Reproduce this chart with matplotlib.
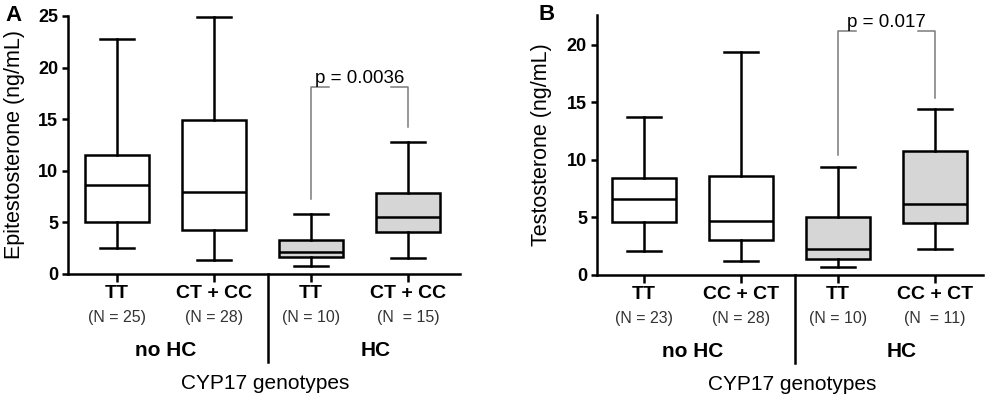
import matplotlib
matplotlib.use('Agg')
import matplotlib.pyplot as plt
from matplotlib.transforms import blended_transform_factory

plt.rcParams['font.family'] = ['Liberation Sans', 'DejaVu Sans']

# panel A: epitestosterone
epi_groups = ['TT', 'CT + CC', 'TT', 'CT + CC']
epi_n = ['(N = 25)', '(N = 28)', '(N = 10)', '(N  = 15)']
epi_whislo = [2.5, 1.4, 0.8, 1.55]
epi_q1 = [5.0, 4.3, 1.6, 4.1]
epi_med = [8.6, 7.9, 2.1, 5.5]
epi_q3 = [11.5, 14.9, 3.3, 7.8]
epi_whishi = [22.8, 24.9, 5.85, 12.8]
epi_p = 'p = 0.0036'
epi_bracket = [18.1, 7.3, 14.2]  # top, left leg end, right leg end

# panel B: testosterone
tes_groups = ['TT', 'CC + CT', 'TT', 'CC + CT']
tes_n = ['(N = 23)', '(N = 28)', '(N = 10)', '(N  = 11)']
tes_whislo = [2.1, 1.2, 0.7, 2.3]
tes_q1 = [4.6, 3.0, 1.4, 4.5]
tes_med = [6.6, 4.7, 2.3, 6.2]
tes_q3 = [8.4, 8.6, 5.0, 10.8]
tes_whishi = [13.7, 19.4, 9.4, 14.4]
tes_p = 'p = 0.017'
tes_bracket = [21.2, 10.4, 15.4]

fills = ['white', 'white', '#d6d6d6', '#d6d6d6']
positions = [1, 2, 3, 4]
LW = 1.8


def draw_panel(ax, groups, nlab, lo, q1, med, q3, hi, ylim, yticks, ylabel,
               ptext, bracket, xlim, letter, sep_depth, label_x):
    stats = []
    for i in range(len(groups)):
        stats.append({'whislo': lo[i], 'q1': q1[i], 'med': med[i],
                      'q3': q3[i], 'whishi': hi[i], 'fliers': []})
    bp = ax.bxp(stats, positions=positions, widths=0.66, patch_artist=True,
                showfliers=False,
                boxprops=dict(linewidth=LW, edgecolor='black'),
                medianprops=dict(linewidth=LW, color='black'),
                whiskerprops=dict(linewidth=LW, color='black'),
                capprops=dict(linewidth=LW, color='black'),
                capwidths=0.35)
    for patch, col in zip(bp['boxes'], fills):
        patch.set_facecolor(col)

    ax.set_ylim(*ylim)
    ax.set_xlim(*xlim)
    ax.set_yticks(yticks)
    ax.set_xticks(positions)
    ax.set_xticklabels([''] * 4)
    for s in ['top', 'right']:
        ax.spines[s].set_visible(False)
    for s in ['left', 'bottom']:
        ax.spines[s].set_linewidth(LW)
    ax.tick_params(axis='y', length=4.5, width=LW, pad=2.5, labelsize=13)
    ax.tick_params(axis='x', length=5.5, width=LW)
    for lab in ax.get_yticklabels():
        lab.set_fontweight('bold')
    ax.set_ylabel(ylabel, fontsize=15.5)
    ax.yaxis.set_label_coords(label_x, 0.5)

    tr = blended_transform_factory(ax.transData, ax.transAxes)
    for pos, g, n in zip(positions, groups, nlab):
        ax.annotate(g, xy=(pos, 0), xycoords=tr, xytext=(0, -14),
                    textcoords='offset points', ha='center', va='center',
                    fontsize=14, fontweight='bold')
        ax.annotate(n, xy=(pos, 0), xycoords=tr, xytext=(0, -31),
                    textcoords='offset points', ha='center', va='center',
                    fontsize=11.5, color='#333333')
    ax.annotate('no HC', xy=(1.5, 0), xycoords=tr, xytext=(0, -55),
                textcoords='offset points', ha='center', va='center',
                fontsize=15, fontweight='bold')
    ax.annotate('HC', xy=(3.66, 0), xycoords=tr, xytext=(0, -55),
                textcoords='offset points', ha='center', va='center',
                fontsize=15, fontweight='bold')
    ax.annotate('CYP17 genotypes', xy=(2.53, 0), xycoords=tr,
                xytext=(0, -79), textcoords='offset points', ha='center',
                va='center', fontsize=15)
    ax.plot([2.56, 2.56], [0, -sep_depth], transform=tr, color='black',
            lw=LW, clip_on=False)

    # significance bracket
    top, left_end, right_end = bracket
    gcol = '#7a7a7a'
    ax.plot([3, 3, 3.18], [left_end, top, top], color=gcol, lw=1.1)
    ax.plot([3.82, 4, 4], [top, top, right_end], color=gcol, lw=1.1)
    ax.text(3.5, top, ptext, ha='center', va='bottom', fontsize=13.5)

    ax.text(-0.16 if letter == 'A' else -0.15, 1.0, letter,
            transform=ax.transAxes, fontsize=16, fontweight='bold',
            ha='left', va='center')


fig = plt.figure(figsize=(9.92, 4.05), dpi=100)
ax1 = fig.add_axes([0.0685, 0.3235, 0.395, 0.637])
ax2 = fig.add_axes([0.6015, 0.321, 0.389, 0.642])

draw_panel(ax1, epi_groups, epi_n, epi_whislo, epi_q1, epi_med, epi_q3,
           epi_whishi, (0, 25), [0, 5, 10, 15, 20, 25],
           'Epitestosterone (ng/mL)', epi_p, epi_bracket, (0.495, 4.53), 'A',
           0.341, -0.11)
draw_panel(ax2, tes_groups, tes_n, tes_whislo, tes_q1, tes_med, tes_q3,
           tes_whishi, (0, 22.6), [0, 5, 10, 15, 20],
           'Testosterone (ng/mL)', tes_p, tes_bracket, (0.51, 4.49), 'B',
           0.338, -0.117)

fig.savefig('out.png', dpi=100)
